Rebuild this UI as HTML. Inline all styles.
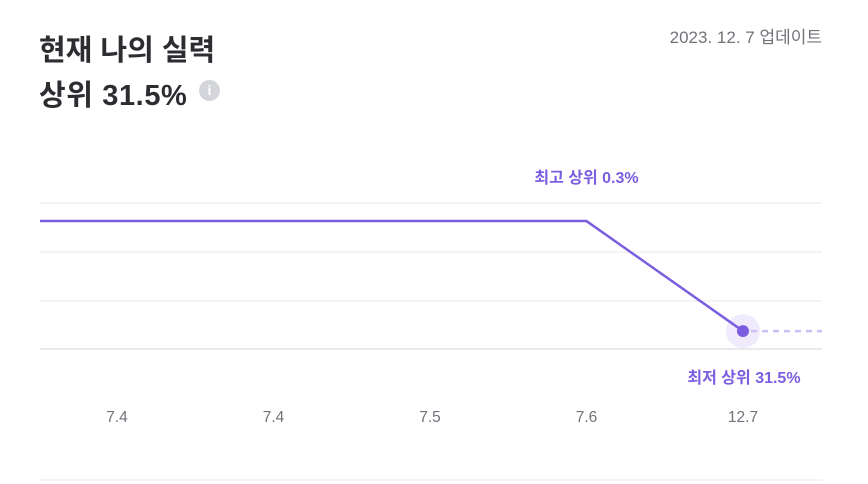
<!DOCTYPE html>
<html><head><meta charset="utf-8"><style>
body{margin:0;width:868px;height:484px;background:#fff;font-family:"Liberation Sans","Noto Sans CJK KR",sans-serif;overflow:hidden;position:relative}
.t{position:absolute;color:#2b2d31;font-weight:700;left:39px}
</style></head><body>
<div class="t" style="top:27px;font-size:29px">현재 나의 실력</div>
<div class="t" style="top:72px;font-size:29px;letter-spacing:0.6px">상위 31.5%</div>
<div style="position:absolute;left:199px;top:80px;width:21px;height:21px;border-radius:50%;background:#d3d5da;color:#fff;font-size:14px;font-weight:700;text-align:center;line-height:21px">i</div>
<div style="position:absolute;right:46px;top:23px;font-size:17px;color:#70737a">2023. 12. 7 업데이트</div>
<svg id="c" width="868" height="484" style="position:absolute;left:0;top:0"></svg>
<script>
const categories=["7.4","7.4","7.5","7.6","12.7"];
const values=[0.3,0.3,0.3,0.3,31.5];
const maxLabel="최고 상위 0.3%";
const minLabel="최저 상위 31.5%";
const ns="http://www.w3.org/2000/svg",svg=document.getElementById('c');
function x(i){return 117+156.5*i;}
function y(v){return 220+v*3.526;}
function mk(t,a,txt){const e=document.createElementNS(ns,t);for(const k in a)e.setAttribute(k,a[k]);if(txt!=null)e.textContent=txt;svg.appendChild(e);return e;}
[203,252,301].forEach(gy=>{const g=mk('line',{x1:40,x2:822,y1:gy,y2:gy,stroke:'#f0f0f2','stroke-width':1.5});

});
const base=mk('line',{x1:40,x2:822,y1:349,y2:349,stroke:'#e2e3e6','stroke-width':1.5});


const bot=mk('line',{x1:40,x2:822,y1:480,y2:480,stroke:'#e8e9ec','stroke-width':1});


const n=values.length-1;
const halo=mk('circle',{cx:x(n),cy:y(values[n]),r:17,fill:'#efebfc'});


let d='M40,'+y(values[0]);
values.forEach((v,i)=>{d+=' L'+x(i)+','+y(v);});
const p=mk('path',{d:d,fill:'none',stroke:'#7b5ee0','stroke-width':2.5,'stroke-linejoin':'round'});


const dash=mk('line',{x1:x(n)+8,x2:822,y1:y(values[n]),y2:y(values[n]),stroke:'#cbbff5','stroke-width':2.5,'stroke-dasharray':'6 5'});


const pt=mk('circle',{cx:x(n),cy:y(values[n]),r:6,fill:'#7b5ee0'});


const ml=mk('text',{x:x(3),y:y(Math.min(...values))-38,'text-anchor':'middle','font-size':16,'font-weight':600,fill:'#7b5ee0'},maxLabel);


const nl=mk('text',{x:x(n)+1,y:y(values[n])+52,'text-anchor':'middle','font-size':16,'font-weight':600,fill:'#7b5ee0'},minLabel);


categories.forEach((c,i)=>{const t=mk('text',{x:x(i),y:422,'text-anchor':'middle','font-size':15.5,fill:'#70737a'},c);

});
</script>
</body></html>
